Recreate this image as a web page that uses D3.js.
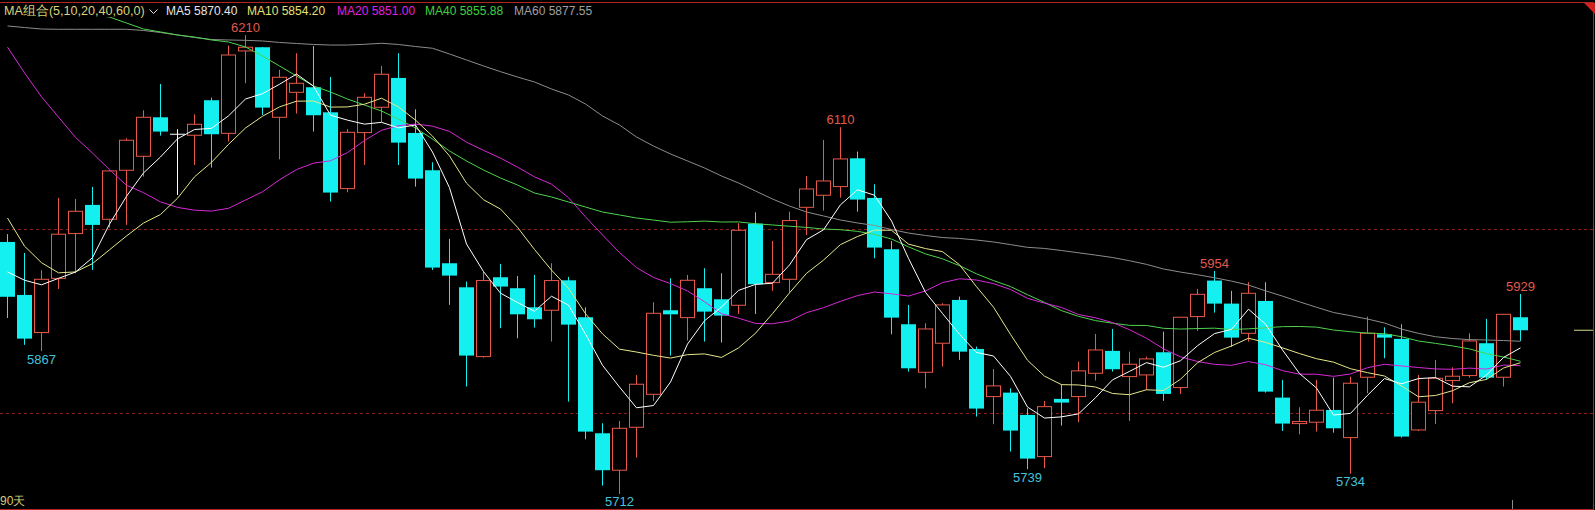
<!DOCTYPE html>
<html><head><meta charset="utf-8">
<script src="https://cdn.jsdelivr.net/npm/d3@7"></script>
<style>html,body{margin:0;padding:0;background:#000;overflow:hidden}</style>
</head><body>
<svg id="chart" width="1595" height="510"></svg>
<script>
// ---- data ----
const opens = [5985.5,5928,5887.2,5946,5994.6,6025.7,6010.1,6063.3,6078.5,6120.8,6102.4,6101.3,6139.3,6103.4,6192.8,6196.8,6120.8,6147.9,6153.4,6126.2,6043.4,6104.2,6131.7,6163.5,6103.8,6063.3,5962.4,5936.3,5861.1,5947.2,5935.3,5914.6,5911.4,5943.9,5903.8,5777.9,5737.8,5784.4,5820.2,5911.4,5903.4,5935.3,5923.3,5916.8,6005.4,5941.4,5945,6023.1,6036.2,6045.6,6076.3,6033.3,5977.6,5896.2,5844.1,5875.6,5922.6,5869.4,5817.7,5822,5797.8,5752.6,5815.2,5817.7,5843,5867.3,5839.4,5841.2,5865.8,5827.5,5904.5,5943.6,5918.6,5886.4,5921.5,5816.6,5788.4,5789.9,5803.2,5773.2,5838.7,5885.3,5880.3,5781.5,5802.5,5835.1,5840.5,5875.6,5838.7,5903.8];
const highs = [5994,5973.6,5954.8,6033.3,6032.2,6045.2,6063.5,6098,6128.4,6157,6107.8,6124,6142.1,6198.6,6210,6197,6172.2,6190.3,6198.2,6164.6,6108.1,6146.9,6176.5,6190.3,6129.5,6072,5988.8,5942.5,5953.3,5961.7,5948.6,5949.7,5962.4,5947.6,5914.6,5788.8,5791.3,5841.2,5920.1,5946.1,5949.7,5957,5951.5,6005.8,6017.7,5986.6,6018.4,6057.1,6096.2,6110,6083.6,6048.1,5986.6,5917.2,5897.3,5919,5926.2,5872,5847.7,5826.7,5805,5813,5831.1,5855.7,5885.7,5891.1,5866.5,5861.1,5888.2,5904,5934.5,5954,5932.4,5941.8,5941.8,5835.8,5806.1,5835.8,5838.3,5839.4,5904.5,5892.9,5896.2,5841.2,5857.5,5849.5,5886.4,5902,5907,5929];
const lows = [5903,5873.8,5867,5934.5,5951.5,5955.1,6001,6004,6056.4,6100.9,6036.5,6069.1,6066.2,6094.4,6157.7,6123.3,6075.2,6124.8,6105.3,6029.3,6039.4,6069.1,6115.7,6069.1,6045.6,5955.1,5917.2,5828.6,5860,5891.9,5881,5892.6,5877.4,5812.3,5771.4,5721.1,5712,5751.5,5813,5862.2,5878.5,5877.4,5876.3,5907.4,5907.4,5932.4,5930.6,5993.1,6019.5,6033.6,6018.4,5967.8,5885.3,5844.8,5826.7,5850.3,5857.5,5796,5787.7,5758,5739,5740,5786.2,5789.9,5835.1,5844.8,5791.3,5824.9,5813,5820.6,5889,5908.9,5871.6,5877.4,5822,5780.4,5776.8,5779.7,5778.6,5734,5821.3,5859.3,5773.2,5780.4,5788,5810.5,5838.3,5835.8,5828.6,5878.1];
const closes = [5926,5880.6,5945,5993.9,6018.8,6004,6062.6,6095.9,6120.8,6105.3,6102.4,6113.2,6102.4,6188.4,6196.8,6131.3,6164.2,6157.7,6123,6039.1,6104.5,6142.5,6167.5,6093.3,6054.3,5957.7,5949,5862.2,5943.6,5937.1,5907,5901.6,5943.6,5895.8,5779.7,5737.8,5783.3,5831.1,5908.1,5907,5943.9,5909.9,5905.6,5998.2,5939.6,5950.4,6008.7,6043,6051.7,6075.6,6031.5,5979.4,5903.4,5848.4,5891.1,5917.2,5866.5,5804.7,5829.3,5780.8,5750.4,5806.8,5811.2,5845.6,5868.3,5847.4,5852.8,5858.6,5820.6,5903.8,5928.7,5918.6,5881.7,5929.8,5823.1,5788.4,5790.6,5802.9,5783.3,5832.2,5886.4,5881.7,5774.3,5811.6,5837.6,5839.8,5878.1,5838.3,5907,5889.7];

// moving-average values for the first days (whose window starts before the visible range)
const ma5Lead  = [5953,5944,5939,5946];
const ma10Lead = [6011.5,5981,5963,5952,5953,5962,5977,5992,6006];
const ma20Lead = [6197,6169,6143,6121,6099,6082,6064,6047,6039,6029,6023,6020,6019,6022,6031,6040,6053,6064,6071];
const ma40Lead = [6245.9,6242.6,6239.4,6236.1,6234,6231.8,6229.6,6223.1,6216.6,6213.4,6210.1,6207.9,6204.7,6202.5,6197.1,6187.3,6176.5,6165.6,6154.8,6148.2,6140.6,6134.1,6127.6,6118.9,6109.2,6097.2,6084.2,6073.4,6063.6,6054.9,6047.3,6038.6,6034.3,6028.9,6023.4,6018,6014.8,6011.5,6009.3];
const ma60Lead = [6219.9,6218.2,6216.6,6216.3,6216.3,6216.3,6216.3,6216.3,6215,6212.8,6210.1,6207.4,6205.2,6204.7,6204.3,6203.6,6202,6200.9,6199.8,6199.2,6199.2,6200,6201.1,6199.8,6197.6,6195.7,6189.5,6183,6176.5,6170.3,6164.5,6159.1,6151.5,6145,6135.2,6122.2,6112.4,6099.4,6089.6,6081,6073.4,6065.8,6057.1,6049.5,6040.8,6032.1,6024.5,6018,6013.7,6009.3,6006.1,6003.4,5999,5995.2,5992.5,5990.3,5989.3,5987.6,5985.5];

const maPeriods = [5,10,20,40,60];
const maLegendNames = ["MA5","MA10","MA20","MA40","MA60"];
const maLegendValues = ["5870.40","5854.20","5851.00","5855.88","5877.55"];
const legendTitle = "MA组合(5,10,20,40,60,0)";
const gridValues = [6000, 5800];
const peakIdx = [14, 49, 71, 89];
const troughIdx = [2, 36, 60, 79];
const periodLabel = "90天";

// ---- drawing ----
const W = 1595, H = 510;
const svg = d3.select("#chart");
svg.append("rect").attr("width", W).attr("height", H).attr("fill", "#000");

const idx = d3.range(closes.length);
const x = d3.scaleBand().domain(idx).range([-1, 1529]).paddingInner(2/17).paddingOuter(1/17);
const xc = i => x(i) + x.bandwidth() / 2;
const y = d3.scaleLinear().domain([5800, 6000]).range([412.9, 228.6]);

const RED = "#e8584a", CYAN = "#14f0f0", WHITE = "#ffffff";
const maColors = ["#ffffff", "#e6e68c", "#d62ad6", "#4fd24f", "#8c8c8c"];
const legendColors = ["#e6e6e6", "#e8e070", "#e020e0", "#3ed23e", "#a0a0a0"];

// grid lines
svg.append("g").selectAll("line").data(gridValues).join("line")
  .attr("x1", 0).attr("x2", 1593)
  .attr("y1", d => Math.round(y(d)) + 0.5).attr("y2", d => Math.round(y(d)) + 0.5)
  .attr("stroke", "#8a1e1e").attr("stroke-dasharray", "3,3").attr("stroke-width", 1);

// frame
svg.append("line").attr("x1", 0).attr("x2", 1594).attr("y1", 2.5).attr("y2", 2.5).attr("stroke", "#b02424");
svg.append("line").attr("x1", 0).attr("x2", 1594).attr("y1", 509.5).attr("y2", 509.5).attr("stroke", "#b02424");
svg.append("line").attr("x1", 1593.5).attr("x2", 1593.5).attr("y1", 2).attr("y2", 510).attr("stroke", "#b02424");
svg.append("polygon").attr("points", "1584,3 1595,3 1595,14").attr("fill", "#d02020");

const kind = i => closes[i] > opens[i] ? "up" : (closes[i] < opens[i] ? "down" : "flat");
const col = i => ({up: RED, down: CYAN, flat: WHITE})[kind(i)];

const candles = svg.append("g").selectAll("g").data(idx).join("g");
candles.append("line")
  .attr("x1", i => Math.floor(xc(i)) + 0.5).attr("x2", i => Math.floor(xc(i)) + 0.5)
  .attr("y1", i => y(highs[i])).attr("y2", i => y(lows[i]))
  .attr("stroke", col).attr("stroke-width", 1);
candles.filter(i => kind(i) === "down").append("rect")
  .attr("x", i => x(i)).attr("width", x.bandwidth())
  .attr("y", i => y(opens[i])).attr("height", i => Math.max(1, y(closes[i]) - y(opens[i])))
  .attr("fill", CYAN);
candles.filter(i => kind(i) === "up").append("rect")
  .attr("x", i => x(i) + 0.5).attr("width", x.bandwidth() - 1)
  .attr("y", i => y(closes[i])).attr("height", i => Math.max(1, y(opens[i]) - y(closes[i])))
  .attr("fill", "#000").attr("stroke", RED).attr("stroke-width", 1);
candles.filter(i => kind(i) === "flat").append("line")
  .attr("x1", i => x(i)).attr("x2", i => x(i) + x.bandwidth())
  .attr("y1", i => y(closes[i])).attr("y2", i => y(closes[i]))
  .attr("stroke", WHITE).attr("stroke-width", 1);

// moving averages
const leads = [ma5Lead, ma10Lead, ma20Lead, ma40Lead, ma60Lead];
const maSeries = maPeriods.map((n, k) => closes.map((c, i) =>
  i < n - 1 ? leads[k][i] : d3.mean(closes.slice(i - n + 1, i + 1))));
const line = d3.line().x((d, i) => xc(i)).y(d => y(d));
svg.append("defs").append("clipPath").attr("id", "plot")
  .append("rect").attr("x", 0).attr("y", 3).attr("width", 1593).attr("height", 506);
const maG = svg.append("g").attr("clip-path", "url(#plot)");
[4, 3, 2, 1, 0].forEach(k => {
  maG.append("path").attr("d", line(maSeries[k]))
    .attr("fill", "none").attr("stroke", maColors[k]).attr("stroke-width", 1);
});

// last price marker
svg.append("line").attr("x1", 1574).attr("x2", 1593).attr("y1", y(closes[closes.length - 1])).attr("y2", y(closes[closes.length - 1]))
  .attr("stroke", "#d8d890");
svg.append("line").attr("x1", 1512.5).attr("x2", 1512.5).attr("y1", 500).attr("y2", 509).attr("stroke", "#8c8c8c");

// peak / trough labels
const fmt = d3.format("d");
svg.append("g").selectAll("text").data(peakIdx).join("text")
  .attr("x", i => xc(i)).attr("y", i => y(highs[i]) - 3)
  .attr("text-anchor", "middle").attr("fill", "#e05a4c")
  .attr("font-family", "Liberation Sans, Arial, sans-serif").attr("font-size", 13)
  .text(i => fmt(Math.round(highs[i])));
svg.append("g").selectAll("text").data(troughIdx).join("text")
  .attr("x", i => xc(i)).attr("y", i => y(lows[i]) + 12.5)
  .attr("text-anchor", "middle").attr("fill", "#46c2dc")
  .attr("font-family", "Liberation Sans, Arial, sans-serif").attr("font-size", 13)
  .text(i => fmt(Math.round(lows[i])));

// legend
svg.append("rect").attr("x", 0).attr("y", 3).attr("width", 600).attr("height", 14).attr("fill", "#000");
const lg = svg.append("g").attr("font-family", "Liberation Sans, Arial, sans-serif").attr("font-size", 12);
lg.append("text").attr("x", 4).attr("y", 15).attr("fill", "#d8d27a").attr("font-size", 12.6).text(legendTitle);
svg.append("path").attr("d", "M149.5,9.5 L153.5,13.5 L157.5,9.5").attr("fill", "none").attr("stroke", "#e0e0e0");
const legX = [166, 247, 337, 425, 514];
maLegendNames.forEach((n, k) => {
  lg.append("text").attr("x", legX[k]).attr("y", 15).attr("fill", legendColors[k])
    .text(n + " " + maLegendValues[k]);
});

svg.append("text").attr("x", 0).attr("y", 505).attr("fill", "#d2cc78")
  .attr("font-family", "Liberation Sans, Arial, sans-serif").attr("font-size", 12).text(periodLabel);
</script>
</body></html>
